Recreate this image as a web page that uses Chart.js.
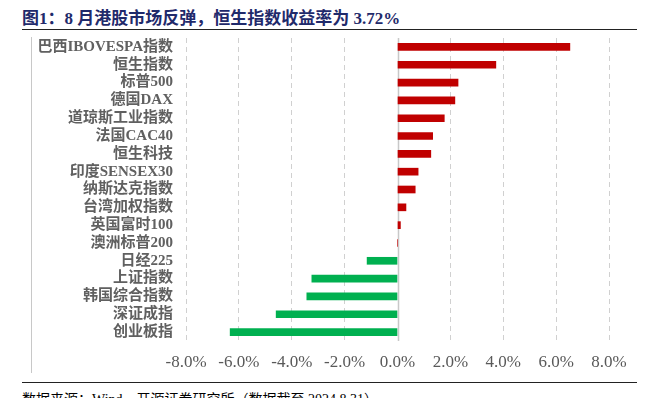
<!DOCTYPE html>
<html>
<head>
<meta charset="utf-8">
<script src="https://cdn.jsdelivr.net/npm/chart.js@4/dist/chart.umd.min.js"></script>
<style>
  body { margin: 0; background: #fff; }
  #wrap { position: relative; width: 652px; height: 398px; overflow: hidden; }
  #title { position: absolute; left: 22px; top: 4px; font: bold 17px "Liberation Serif", "Noto Sans CJK SC"; color: #1F2A6B; white-space: nowrap; }
  #footer { position: absolute; left: 22px; top: 388px; font: 14px "Liberation Serif", "Noto Sans CJK SC"; color: #000; white-space: nowrap; }
  .line { position: absolute; }
  #chartBox { position: absolute; left: 0; top: 0; width: 652px; height: 398px; }
</style>
</head>
<body>
<div id="wrap">
  <div id="title">图1：8 月港股市场反弹，恒生指数收益率为 3.72%</div>
  <div class="line" style="left:22px;top:29px;width:615px;height:1px;background:#222;"></div>
  <div class="line" style="left:31px;top:37px;width:1px;height:336px;background:#C8C8C8;"></div>
  <div class="line" style="left:22px;top:382px;width:615px;height:1px;background:#222;"></div>
  <div id="footer">数据来源：Wind、开源证券研究所（数据截至 2024.8.31）</div>
  <div id="chartBox"><canvas id="myChart"></canvas></div>
</div>
<script>
//data
var indexNames = [
  "巴西IBOVESPA指数", "恒生指数", "标普500", "德国DAX", "道琼斯工业指数",
  "法国CAC40", "恒生科技", "印度SENSEX30", "纳斯达克指数", "台湾加权指数",
  "英国富时100", "澳洲标普200", "日经225", "上证指数", "韩国综合指数",
  "深证成指", "创业板指"
];
var returns = [6.52, 3.72, 2.29, 2.17, 1.77, 1.33, 1.26, 0.78, 0.67, 0.32, 0.11, 0.0,
  -1.15, -3.24, -3.43, -4.59, -6.33];
var xTicks = [-8, -6, -4, -2, 0, 2, 4, 6, 8];

var barColors = [];
for (var i = 0; i < returns.length; i++) {
  barColors.push(returns[i] >= 0 ? "#C00000" : "#00B050");
}

//solid line at 0
var zeroLine = {
  id: "zeroLine",
  beforeDatasetsDraw: function (chart) {
    var x = Math.round(chart.scales.x.getPixelForValue(0)) + 0.5;
    var ctx = chart.ctx;
    ctx.save();
    ctx.strokeStyle = "#C8C8C8";
    ctx.lineWidth = 1.5;
    ctx.beginPath();
    ctx.moveTo(x, chart.chartArea.top);
    ctx.lineTo(x, chart.chartArea.bottom);
    ctx.stroke();
    ctx.restore();
  },
};

const config = {
  type: "bar",
  data: {
    labels: indexNames,
    datasets: [
      {
        data: returns,
        backgroundColor: barColors,
        barThickness: 7,
      },
    ],
  },
  options: {
    indexAxis: "y",
    responsive: true,
    maintainAspectRatio: false,
    animation: false,
    layout: { padding: { top: 38, right: 43, bottom: 0, left: 0 } },
    plugins: { legend: { display: false }, tooltip: { enabled: false } },
    scales: {
      x: {
        min: -8,
        max: 8,
        afterBuildTicks: function (scale) {
          scale.ticks = xTicks.map(function (v) { return { value: v }; });
        },
        afterFit: function (scale) { scale.height = 57; },
        grid: {
          drawTicks: false,
          color: function (c) { return c.tick && c.tick.value === 0 ? "rgba(0,0,0,0)" : "#D0D0D0"; },
          lineWidth: 1,
        },
        border: { display: false, dash: [5, 4] },
        ticks: {
          padding: 11,
          color: "#595959",
          font: { family: "Liberation Serif", size: 17 },
          callback: function (v) { return Number(v).toFixed(1) + "%"; },
        },
      },
      y: {
        afterFit: function (scale) { scale.width = 186; },
        grid: { display: false, drawTicks: false },
        border: { display: false },
        ticks: {
          padding: 13,
          autoSkip: false,
          color: "#606060",
          font: { family: "'Liberation Serif', 'Noto Sans CJK SC'", size: 15, weight: "bold" },
        },
      },
    },
  },
  plugins: [zeroLine],
};

var myChart = new Chart(document.getElementById("myChart"), config);
</script>
</body>
</html>
